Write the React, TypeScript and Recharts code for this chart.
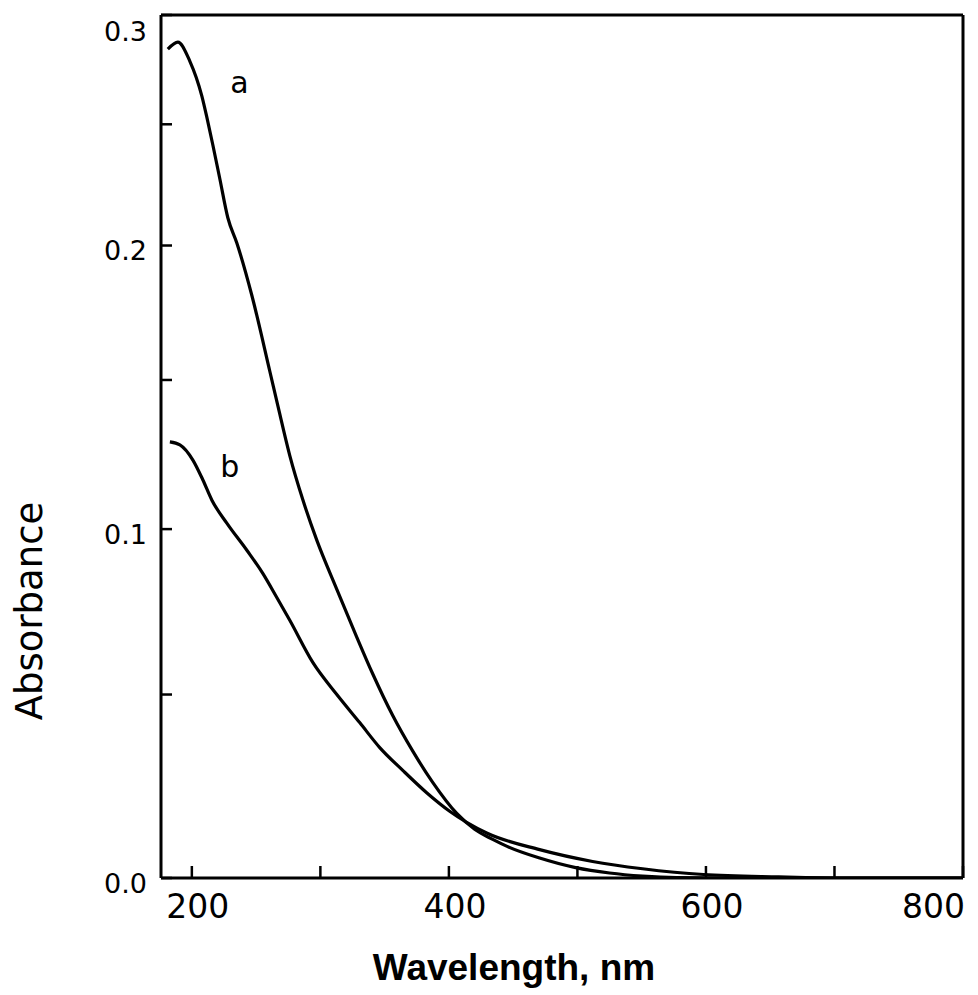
import React from 'react';
import { LineChart, Line, XAxis, YAxis, ReferenceLine, ReferenceDot, Label } from 'recharts';

// Curve a (wavelength nm, absorbance)
const wavelengthA = [181.3, 189.1, 198.4, 207.8, 211.7, 216.3, 221.8, 228, 235, 246.7, 260.7, 266.9, 276.2, 286.3, 297.2, 312.8, 328.3, 340.7, 356.3, 371.9, 387.4, 406.1, 420, 434.1, 445.7, 470.6, 498.6, 525, 550.7, 577, 620, 800];
const absorbanceA = [0.2838, 0.2871, 0.2783, 0.2624, 0.253, 0.2412, 0.2268, 0.211, 0.201, 0.1808, 0.153, 0.141, 0.124, 0.1095, 0.0965, 0.0812, 0.0668, 0.056, 0.044, 0.034, 0.0254, 0.017, 0.0128, 0.0101, 0.0082, 0.0052, 0.0027, 0.0013, 0.0005, 0.0001, 0, 0];

// Curve b
const wavelengthB = [182.9, 190.7, 200.8, 208.6, 215.6, 227.2, 242.8, 255.2, 266.1, 276.2, 294.1, 312.8, 330.6, 346.2, 364.1, 382.7, 400.6, 429.4, 470.6, 511.8, 550.7, 598.1, 656.5, 709.3, 800];
const absorbanceB = [0.1286, 0.1276, 0.1225, 0.1159, 0.1093, 0.1019, 0.0933, 0.0861, 0.0787, 0.0718, 0.0593, 0.05, 0.042, 0.035, 0.0287, 0.0226, 0.0176, 0.0118, 0.0074, 0.0043, 0.0024, 0.0009, 0.0003, 0, 0];

// Axis ticks
const xTicks = [200, 300, 400, 500, 600, 700, 800];
const xTickLabels = [200, 400, 600, 800];
const yTicks = [0, 0.05, 0.1, 0.15, 0.2, 0.25, 0.3];
const yTickLabels = ['0.0', '0.1', '0.2', '0.3'];

// Curve annotations
const curveNames = ['a', 'b'];
const curveNameWavelength = [237, 229.5];
const curveNameAbsorbance = [0.2687, 0.1202];

// The absorbance axis of the original is drawn on a transmittance-like (non-linear) scale
const K = 0.9;
const toAxis = (a: number) => 1 - Math.pow(10, -K * a);
const fromAxis = (v: number) => -Math.log10(1 - v) / K;

const dataA = wavelengthA.map((x, i) => ({ x, y: toAxis(absorbanceA[i]) }));
const dataB = wavelengthB.map((x, i) => ({ x, y: toAxis(absorbanceB[i]) }));

const FONT = '"DejaVu Sans", sans-serif';

const XTick = (props: any) => {
  const { x, y, payload } = props;
  const v = payload.value;
  if (!xTickLabels.includes(Math.round(v))) return null;
  const last = Math.round(v) === 800;
  return (
    <text
      x={last ? x + 2 : x + 6}
      y={y + 28}
      textAnchor={last ? 'end' : 'middle'}
      dominantBaseline="central"
      fontFamily={FONT}
      fontSize={33}
      fill="#000"
    >
      {Math.round(v)}
    </text>
  );
};

const YTick = (props: any) => {
  const { x, y, payload } = props;
  const a = Math.round(fromAxis(payload.value) * 100) / 100;
  const label = a.toFixed(1);
  if (Math.round(a * 100) % 10 !== 0 || !yTickLabels.includes(label)) return null;
  const dy = label === '0.3' ? 16 : 5;
  return (
    <text
      x={x}
      y={y + dy}
      textAnchor="end"
      dominantBaseline="central"
      fontFamily={FONT}
      fontSize={27}
      fill="#000"
    >
      {label}
    </text>
  );
};

const CurveName = (name: string) => (props: any) => (
  <text
    x={props.cx}
    y={props.cy}
    textAnchor="middle"
    dominantBaseline="central"
    fontFamily={FONT}
    fontSize={30}
    fill="#000"
  >
    {name}
  </text>
);

export default function App() {
  return (
    <LineChart width={970} height={987} margin={{ top: 7, right: 15, left: 93, bottom: 57 }}>
      <XAxis
        dataKey="x"
        type="number"
        domain={[176, 800]}
        ticks={xTicks}
        interval={0}
        allowDataOverflow
        height={60}
        tickSize={-12}
        tickMargin={12}
        axisLine={{ stroke: '#000', strokeWidth: 3 }}
        tickLine={{ stroke: '#000', strokeWidth: 2.5 }}
        tick={<XTick />}
      >
        <Label
          content={() => (
            <text
              x={506}
              y={972}
              textAnchor="middle"
              fontFamily='"Liberation Sans", Arial, sans-serif'
              fontWeight="bold"
              fontSize={37}
              fill="#000"
            >
              Wavelength, nm
            </text>
          )}
        />
      </XAxis>
      <YAxis
        type="number"
        domain={[0, toAxis(0.3)]}
        ticks={yTicks.map(toAxis)}
        interval={0}
        allowDataOverflow
        width={60}
        tickSize={-11}
        tickMargin={25}
        axisLine={{ stroke: '#000', strokeWidth: 3 }}
        tickLine={{ stroke: '#000', strokeWidth: 2.5 }}
        tick={<YTick />}
      >
        <Label
          content={() => (
            <text
              x={21}
              y={603}
              transform="rotate(-90 21 603)"
              textAnchor="middle"
              dominantBaseline="central"
              fontFamily={FONT}
              fontSize={37}
              fill="#000"
            >
              Absorbance
            </text>
          )}
        />
      </YAxis>
      <ReferenceLine y={toAxis(0.3)} stroke="#000" strokeWidth={3} />
      <ReferenceLine x={800} stroke="#000" strokeWidth={3} />
      <Line
        data={dataA}
        dataKey="y"
        type="monotone"
        stroke="#000"
        strokeWidth={3.2}
        dot={false}
        isAnimationActive={false}
      />
      <Line
        data={dataB}
        dataKey="y"
        type="monotone"
        stroke="#000"
        strokeWidth={3.2}
        dot={false}
        isAnimationActive={false}
      />
      {curveNames.map((n, i) => (
        <ReferenceDot
          key={n}
          x={curveNameWavelength[i]}
          y={toAxis(curveNameAbsorbance[i])}
          r={0}
          shape={CurveName(n)}
        />
      ))}
    </LineChart>
  );
}
